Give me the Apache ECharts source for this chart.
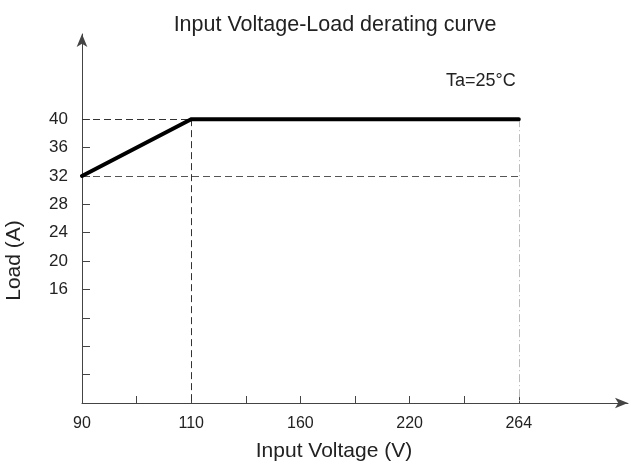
<!DOCTYPE html>
<html>
<head>
<meta charset="utf-8">
<script src="https://cdn.jsdelivr.net/npm/echarts@6/dist/echarts.min.js"></script>
<style>
html,body{margin:0;padding:0;background:#fff;}
#chart{width:642px;height:466px;}
</style>
</head>
<body>
<div id="chart"></div>
<script>
// ---- data ----
const xTickLabels = ['90', '', '110', '', '160', '', '220', '', '264'];
const yTickLabels = ['', '', '', '16', '20', '24', '28', '32', '36', '40'];
const voltage = ['90', '110', '264'];
const load = ['32', '40', '40'];
const titleText = 'Input Voltage-Load derating curve';
const noteText = 'Ta=25°C';

// ---- build axes (origin + ticks + room for the arrows) ----
const xCats = xTickLabels.concat(['', '']);
const yCats = [''].concat(yTickLabels, ['', '', '']);
const lastX = xTickLabels.length - 1;
const lastY = yTickLabels.length;

const textColor = '#222';
const font = 'Liberation Sans, Arial, sans-serif';

const chart = echarts.init(document.getElementById('chart'));
chart.setOption({
  animation: false,
  backgroundColor: '#fff',
  title: {
    text: titleText,
    left: 330,
    top: 9,
    textAlign: 'center',
    textStyle: { fontFamily: font, fontSize: 21.5, fontWeight: 'normal', color: textColor }
  },
  graphic: [{
    type: 'text',
    left: 446,
    top: 72,
    style: { text: noteText, fontFamily: font, fontSize: 18, fill: textColor }
  }],
  grid: { left: 82, right: 14, top: 34, bottom: 63, containLabel: false, outerBoundsMode: 'none' },
  xAxis: {
    type: 'category',
    data: xCats,
    boundaryGap: false,
    name: 'Input Voltage (V)',
    nameLocation: 'middle',
    nameGap: 38,
    nameTextStyle: { fontFamily: font, fontSize: 21, color: textColor, padding: [0, 42, 0, 0] },
    axisLine: { lineStyle: { color: '#444', width: 1 }, symbol: ['none', 'arrow'], symbolSize: [8, 13] },
    axisTick: { show: true, inside: true, length: 7, lineStyle: { color: '#444', width: 1 }, interval: function (i) { return i <= lastX; } },
    axisLabel: { show: true, interval: 0, margin: 13, fontFamily: font, fontSize: 16, color: textColor },
    splitLine: { show: false }
  },
  yAxis: {
    type: 'category',
    data: yCats,
    boundaryGap: false,
    name: 'Load (A)',
    nameLocation: 'middle',
    nameGap: 57,
    nameTextStyle: { fontFamily: font, fontSize: 21, color: textColor, padding: [0, 84, 0, 0] },
    axisLine: { lineStyle: { color: '#444', width: 1 }, symbol: ['none', 'arrow'], symbolSize: [8, 13] },
    axisTick: { show: true, inside: true, length: 8, lineStyle: { color: '#444', width: 1 }, interval: function (i) { return i >= 1 && i <= lastY; } },
    axisLabel: { show: true, interval: 0, margin: 14, fontFamily: font, fontSize: 17, color: textColor },
    splitLine: { show: false }
  },
  series: [{
    type: 'line',
    data: voltage.map((v, i) => [v, load[i]]),
    symbol: 'none',
    lineStyle: { color: '#000', width: 4, cap: 'round', join: 'miter' },
    z: 5,
    markLine: {
      silent: true,
      symbol: 'none',
      label: { show: false },
      animation: false,
      data: [
        [{ coord: [voltage[0], load[1]], lineStyle: { color: '#333', type: [7, 4], width: 1 } }, { coord: [voltage[1], load[1]] }],
        [{ coord: [voltage[0], load[0]], lineStyle: { color: '#555', type: [7, 4], width: 1 } }, { coord: [voltage[2], load[0]] }],
        [{ coord: [voltage[1], load[1]], lineStyle: { color: '#333', type: [7, 4], width: 1 } }, { coord: [voltage[1], 0] }],
        [{ coord: [voltage[2], load[2]], lineStyle: { color: '#bbb', type: [8, 3, 1, 3], width: 1 } }, { coord: [voltage[2], 0] }]
      ]
    }
  }]
});
</script>
</body>
</html>
